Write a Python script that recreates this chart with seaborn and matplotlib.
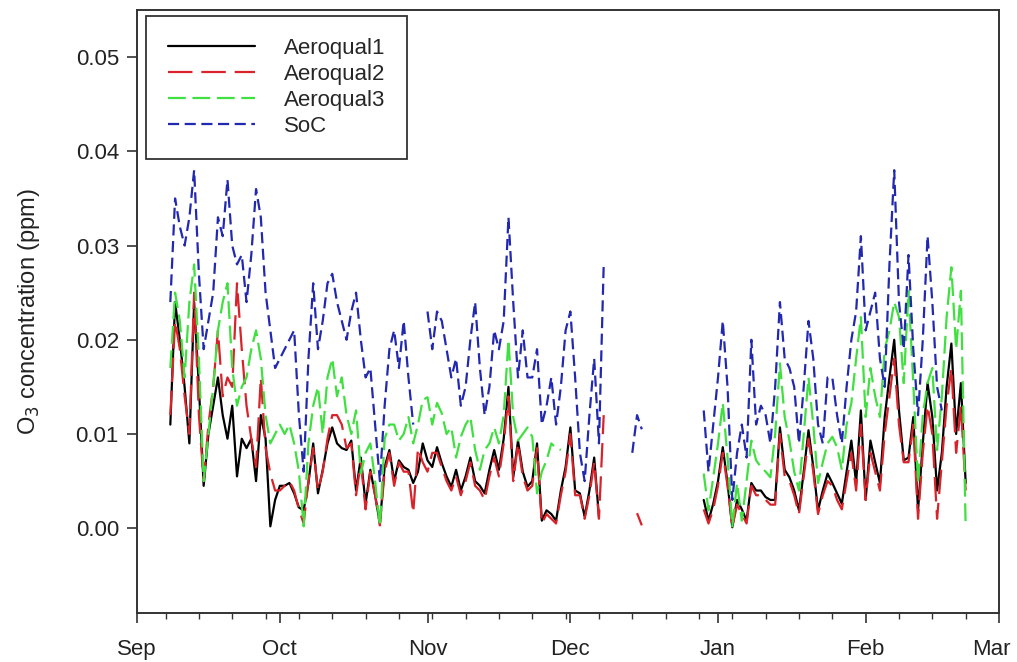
import numpy as np
import pandas as pd
import matplotlib
matplotlib.use("Agg")
import matplotlib.pyplot as plt
import matplotlib.dates as mdates
import matplotlib.transforms as mtransforms
from matplotlib.ticker import FormatStrFormatter
import seaborn as sns

nan = np.nan

# daily means, 8 Sep 2013 .. 22 Feb 2014 (one row = one week)
start_date = "2013-09-08"

aeroqual1 = [
    0.011, 0.024, 0.020, 0.015, 0.009, 0.024, 0.015,
    0.0045, 0.010, 0.013, 0.016, 0.012, 0.0095, 0.013,
    0.0055, 0.0095, 0.0085, 0.0095, 0.005, 0.012, 0.0095,
    0.0002, 0.003, 0.0045, 0.0045, 0.0048, 0.0037, 0.0022,
    0.0019, 0.0048, 0.009, 0.0037, 0.0062, 0.009, 0.0107,
    0.009, 0.0085, 0.0083, 0.0093, 0.004, 0.0075, 0.0026,
    0.0062, 0.0035, 0.0005, 0.0065, 0.0083, 0.005, 0.0072,
    0.0065, 0.0062, 0.0048, 0.006, 0.009, 0.0072, 0.0065,
    0.0086, 0.0069, 0.0055, 0.0044, 0.0062, 0.004, 0.0055,
    0.0075, 0.005, 0.0045, 0.0037, 0.0062, 0.0083, 0.0062,
    0.0095, 0.015, 0.0054, 0.0093, 0.006, 0.0044, 0.005,
    0.009, 0.0008, 0.0019, 0.0015, 0.0008, 0.004, 0.0065,
    0.0107, 0.004, 0.0037, 0.0012, 0.004, 0.0075, 0.0012,
    nan, nan, nan, nan, nan, nan, nan,
    nan, nan, nan, nan, nan, nan, nan,
    nan, nan, nan, nan, nan, nan, nan,
    0.003, 0.0008, 0.0026, 0.005, 0.0086, 0.0048, 0.0001,
    0.003, 0.002, 0.0008, 0.0048, 0.004, 0.004, 0.0033,
    0.003, 0.003, 0.0107, 0.0062, 0.0054, 0.004, 0.0019,
    0.006, 0.0104, 0.0065, 0.0019, 0.004, 0.0058, 0.0048,
    0.0037, 0.0026, 0.006, 0.0093, 0.0048, 0.0125, 0.003,
    0.0093, 0.007, 0.0048, 0.0118, 0.016, 0.020, 0.0125,
    0.0072, 0.0075, 0.0118, 0.0019, 0.009, 0.0154, 0.0118,
    0.004, 0.008, 0.015, 0.0196, 0.010, 0.0154, 0.0048,
]

aeroqual2 = [
    0.012, 0.022, 0.019, 0.014, 0.010, 0.025, 0.012,
    0.005, 0.011, 0.015, 0.021, 0.014, 0.016, 0.015,
    0.026, 0.019, 0.013, 0.0095, 0.0065, 0.016, 0.0085,
    0.0058, 0.004, 0.004, 0.0045, 0.005, 0.004, 0.002,
    0.0005, 0.005, 0.0085, 0.004, 0.006, 0.0095, 0.012,
    0.012, 0.011, 0.0085, 0.009, 0.0035, 0.007, 0.002,
    0.006, 0.0035, 0.0003, 0.006, 0.008, 0.0045, 0.007,
    0.006, 0.006, 0.0016, 0.0085, 0.007, 0.006, 0.008,
    0.008, 0.0065, 0.005, 0.004, 0.0055, 0.0035, 0.005,
    0.007, 0.0045, 0.004, 0.003, 0.0055, 0.0075, 0.0055,
    0.009, 0.014, 0.005, 0.009, 0.0055, 0.004, 0.0045,
    0.0085, 0.0005, 0.0015, 0.001, 0.0005, 0.0035, 0.006,
    0.010, 0.0035, 0.0035, 0.001, 0.0035, 0.007, 0.001,
    0.012, nan, nan, nan, nan, nan, nan,
    0.0016, 0.0003, nan, nan, nan, nan, nan,
    nan, nan, nan, nan, nan, nan, nan,
    0.002, 0.0005, 0.002, 0.0045, 0.008, 0.0045, 0.0001,
    0.0025, 0.0015, 0.0005, 0.0045, 0.0035, 0.0035, 0.003,
    0.0025, 0.0025, 0.010, 0.0055, 0.005, 0.0035, 0.0015,
    0.0055, 0.0095, 0.006, 0.0015, 0.0035, 0.005, 0.0045,
    0.003, 0.002, 0.005, 0.008, 0.004, 0.011, 0.003,
    0.008, 0.006, 0.004, 0.010, 0.014, 0.018, 0.011,
    0.007, 0.007, 0.011, 0.001, 0.008, 0.013, 0.010,
    0.001, 0.007, 0.013, 0.017, 0.008, 0.013, 0.004,
]

aeroqual3 = [
    0.017, 0.025, 0.022, 0.016, 0.024, 0.028, 0.018,
    0.005, 0.010, 0.015, 0.021, 0.024, 0.026, 0.017,
    0.013, 0.015, 0.016, 0.019, 0.021, 0.018, 0.012,
    0.009, 0.010, 0.011, 0.010, 0.011, 0.009, 0.006,
    0.0002, 0.009, 0.013, 0.015, 0.010, 0.016, 0.018,
    0.014, 0.016, 0.012, 0.010, 0.0125, 0.0058, 0.008,
    0.009, 0.005, 0.0002, 0.0095, 0.011, 0.011, 0.0093,
    0.010, 0.0118, 0.009, 0.011, 0.0136, 0.0139, 0.011,
    0.0133, 0.0122, 0.010, 0.0107, 0.0075, 0.0097, 0.011,
    0.0118, 0.0083, 0.0062, 0.0083, 0.009, 0.0107, 0.009,
    0.012, 0.020, 0.0118, 0.0093, 0.010, 0.0107, 0.0097,
    0.0037, 0.006, 0.0072, 0.009, 0.0085, 0.0083, nan,
    nan, nan, nan, nan, nan, nan, nan,
    nan, nan, nan, nan, nan, nan, nan,
    nan, nan, nan, nan, nan, nan, nan,
    nan, nan, nan, nan, nan, nan, nan,
    0.0058, 0.0019, 0.0054, 0.009, 0.0133, 0.0075, 0.0002,
    0.0048, 0.0008, 0.005, 0.0093, 0.0072, 0.0065, 0.006,
    0.0054, 0.010, 0.0175, 0.0118, 0.0093, 0.006, 0.004,
    0.010, 0.016, 0.011, 0.0048, 0.007, 0.009, 0.0097,
    0.0086, 0.0062, 0.011, 0.0133, 0.018, 0.0224, 0.0118,
    0.017, 0.014, 0.0118, 0.019, 0.021, 0.024, 0.0224,
    0.0154, 0.0252, 0.0154, 0.0048, 0.012, 0.0154, 0.017,
    0.0083, 0.014, 0.0224, 0.0277, 0.019, 0.0252, 0.0001,
]

soc = [
    0.024, 0.035, 0.032, 0.030, 0.033, 0.038, 0.027,
    0.019, 0.022, 0.025, 0.033, 0.031, 0.037, 0.030,
    0.028, 0.029, 0.024, 0.029, 0.036, 0.033, 0.025,
    0.021, 0.017, 0.018, 0.019, 0.020, 0.021, 0.012,
    0.006, 0.018, 0.026, 0.019, 0.022, 0.026, 0.027,
    0.024, 0.022, 0.020, 0.023, 0.025, 0.020, 0.016,
    0.017, 0.011, 0.005, 0.013, 0.019, 0.021, 0.017,
    0.022, 0.016, 0.011, nan, nan, 0.023, 0.019,
    0.023, 0.022, 0.019, 0.016, 0.018, 0.013, 0.015,
    0.020, 0.024, 0.017, 0.012, 0.015, 0.021, 0.019,
    0.022, 0.033, 0.024, 0.016, 0.021, 0.016, 0.016,
    0.019, 0.011, 0.013, 0.016, 0.011, 0.015, 0.021,
    0.023, 0.016, 0.008, 0.005, 0.012, 0.018, 0.009,
    0.028, nan, nan, nan, nan, nan, 0.008,
    0.012, 0.0105, nan, nan, nan, nan, nan,
    nan, nan, nan, nan, nan, nan, nan,
    0.0125, 0.006, 0.011, 0.016, 0.022, 0.015, 0.003,
    0.008, 0.011, 0.0075, 0.020, 0.011, 0.013, 0.012,
    0.009, 0.015, 0.024, 0.018, 0.017, 0.015, 0.009,
    0.015, 0.022, 0.018, 0.011, 0.009, 0.016, 0.016,
    0.012, 0.009, 0.015, 0.020, 0.023, 0.031, 0.021,
    0.023, 0.025, 0.018, 0.015, 0.028, 0.038, 0.024,
    0.019, 0.029, 0.019, 0.012, 0.020, 0.031, 0.024,
    0.015, 0.0125, nan, nan, nan, nan, nan,
]

sensors = ["Aeroqual1", "Aeroqual2", "Aeroqual3", "SoC"]
colors = {"Aeroqual1": "#000000", "Aeroqual2": "#d8232a",
          "Aeroqual3": "#3fe03f", "SoC": "#2228b0"}
dash_styles = {"Aeroqual1": "", "Aeroqual2": (11, 4),
               "Aeroqual3": (8, 3), "SoC": (5, 2.5)}

dates = pd.date_range(start_date, periods=len(soc), freq="D")
frames = []
for name, vals in zip(sensors, [aeroqual1, aeroqual2, aeroqual3, soc]):
    d = pd.DataFrame({"date": dates, "o3": vals, "sensor": name})
    # split into runs so gaps in the record stay as gaps
    d["seg"] = name + d["o3"].isna().cumsum().astype(str)
    frames.append(d.dropna())
df = pd.concat(frames, ignore_index=True)

sns.set_style("ticks")
plt.rcParams["font.family"] = ["Liberation Sans", "DejaVu Sans"]

fig = plt.figure(figsize=(10.17, 6.62), dpi=100)
ax = fig.add_axes([0.1347, 0.074, 0.8476, 0.9109])

sns.lineplot(data=df, x="date", y="o3", hue="sensor", style="sensor",
             units="seg", estimator=None, sort=False,
             hue_order=sensors, style_order=sensors,
             palette=colors, dashes=dash_styles, linewidth=1.6, ax=ax)

ax.set_xlim(pd.Timestamp("2013-09-01"), pd.Timestamp("2014-03-01"))
ax.set_ylim(-0.009, 0.055)
ax.set_yticks([0.0, 0.01, 0.02, 0.03, 0.04, 0.05])
ax.yaxis.set_major_formatter(FormatStrFormatter("%.2f"))
ax.xaxis.set_major_locator(mdates.MonthLocator())
ax.xaxis.set_major_formatter(mdates.DateFormatter("%b"))
ax.xaxis.set_minor_locator(mdates.WeekdayLocator(byweekday=mdates.SA))

for s in ax.spines.values():
    s.set_visible(True)
    s.set_color("#333333")
    s.set_linewidth(1.4)
ax.tick_params(which="major", direction="out", length=7, width=1.2,
               labelsize=16, colors="#333333", labelcolor="#222222",
               top=False, right=False)
ax.tick_params(which="minor", direction="out", length=4, width=1.0,
               colors="#333333", top=False, right=False)
ax.tick_params(axis="x", pad=12)
ax.tick_params(axis="y", pad=6)

# last month label sits a little inside the frame, as in the original
fig.canvas.draw()
last = ax.get_xticklabels()[-1]
last.set_transform(last.get_transform() +
                   mtransforms.ScaledTranslation(-8 / 100, 0, fig.dpi_scale_trans))

ax.set_xlabel("")
ax.set_ylabel("O$_3$ concentration (ppm)", fontsize=17, color="#222222", labelpad=24)

old = ax.get_legend()
handles = old.legend_handles
labels = [t.get_text() for t in old.get_texts()]
old.remove()
leg = ax.legend(handles, labels, loc="upper left", bbox_to_anchor=(0.0104, 0.99),
                borderaxespad=0, fontsize=16, handlelength=3.9, handletextpad=1.3,
                borderpad=1.0, labelspacing=0.22, fancybox=False, framealpha=1,
                edgecolor="#333333")
leg.get_frame().set_linewidth(1.3)

fig.savefig("out.png", dpi=100)
